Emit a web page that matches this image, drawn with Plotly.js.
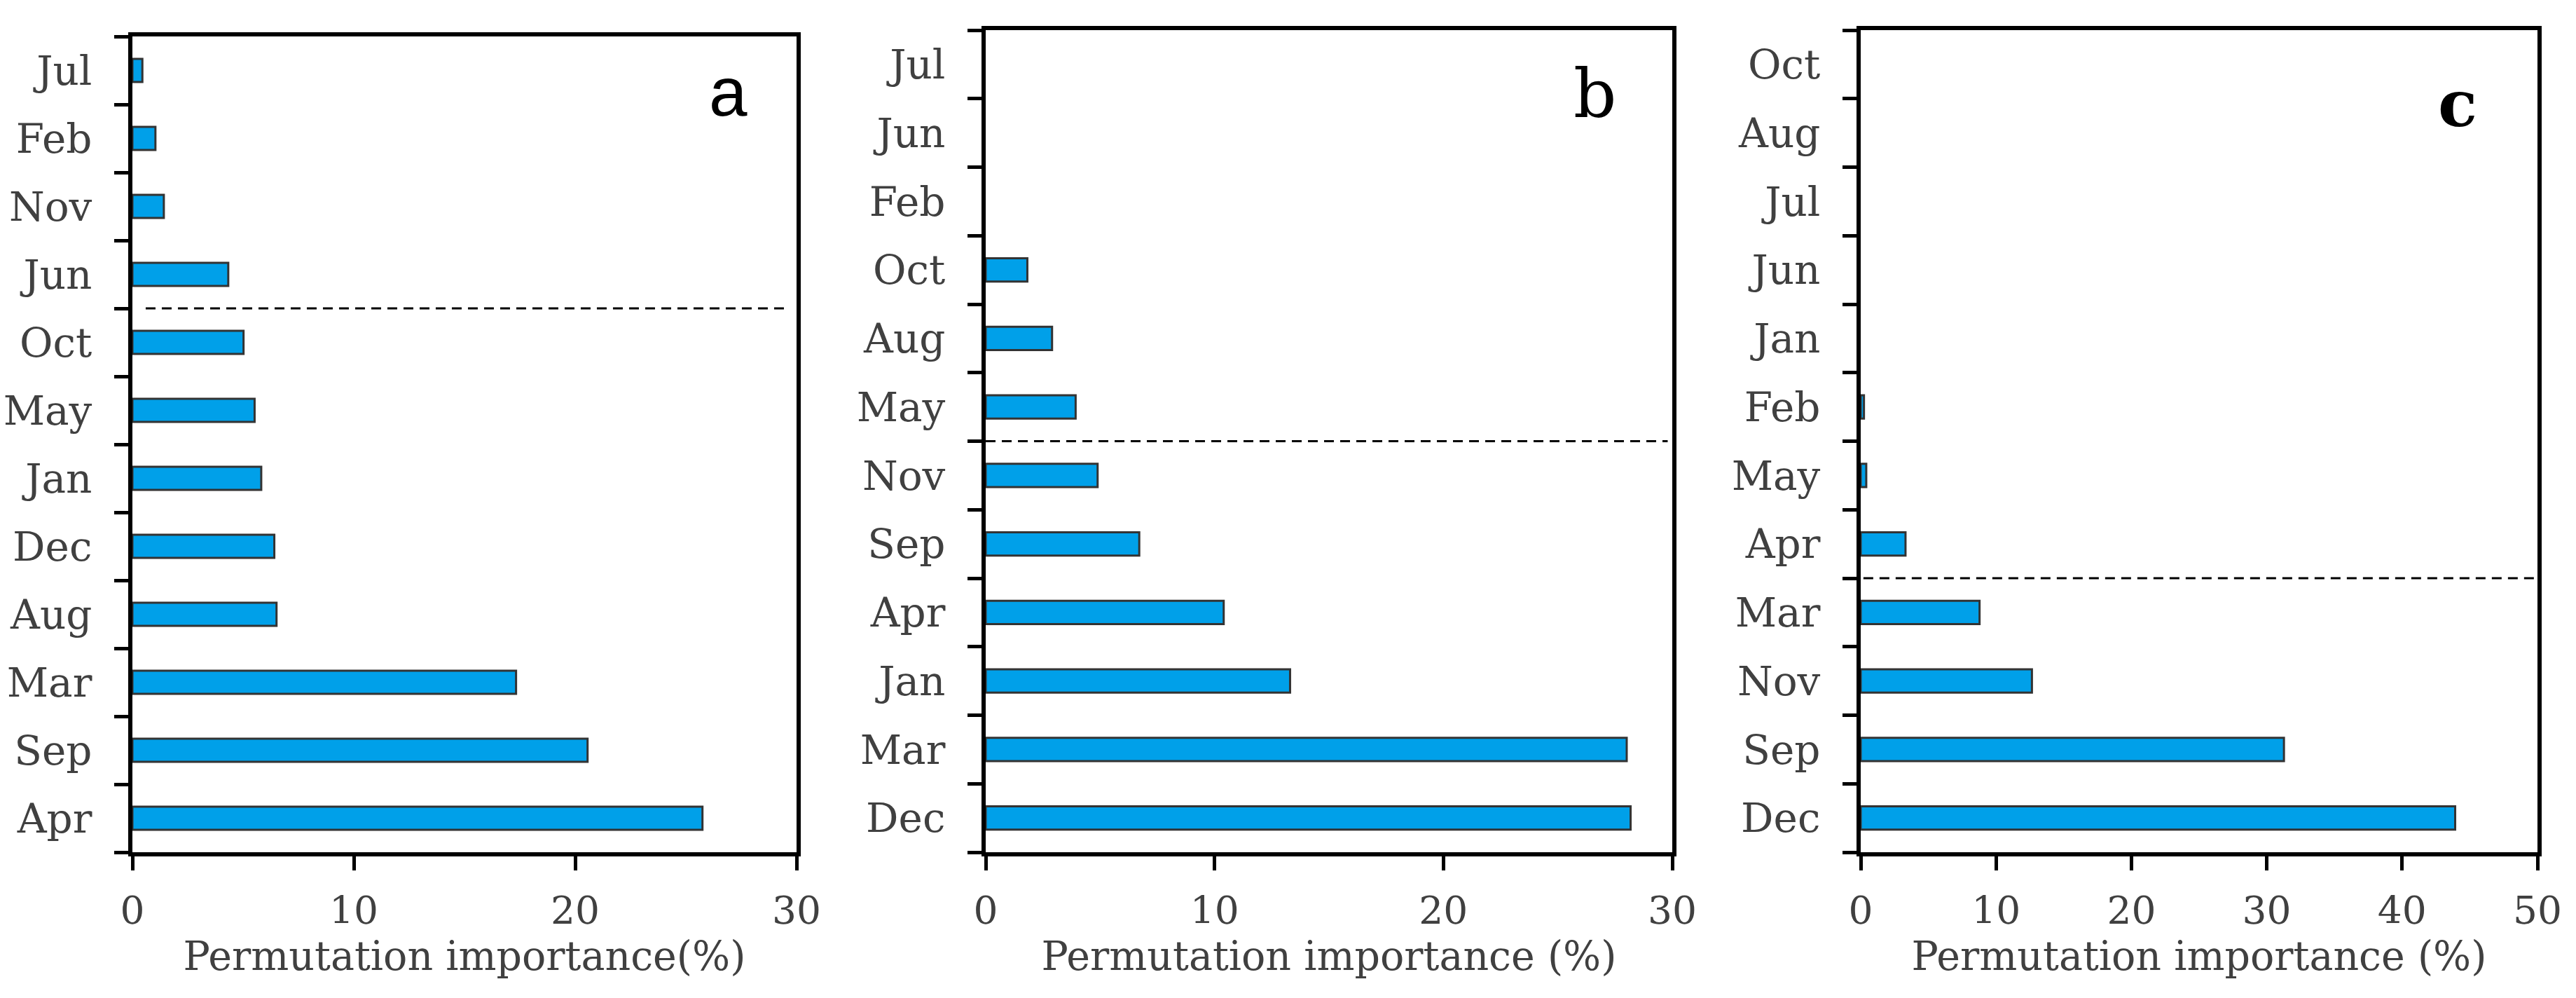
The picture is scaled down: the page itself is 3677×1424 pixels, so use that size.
<!DOCTYPE html>
<html>
<head>
<meta charset="utf-8">
<script src="https://cdn.plot.ly/plotly-3.0.1.min.js"></script>
<style>
  html, body { margin: 0; padding: 0; background: #fff; }
  #chart { width: 3677px; height: 1424px; }
</style>
</head>
<body>
<div id="chart"></div>
<script>
// ---- Data (categories listed bottom to top) ----
const monthsA = ['Apr', 'Sep', 'Mar', 'Aug', 'Dec', 'Jan', 'May', 'Oct', 'Jun', 'Nov', 'Feb', 'Jul'];
const valuesA = [25.75, 20.56, 17.33, 6.51, 6.41, 5.82, 5.52, 5.02, 4.33, 1.42, 1.04, 0.45];

const monthsB = ['Dec', 'Mar', 'Jan', 'Apr', 'Sep', 'Nov', 'May', 'Aug', 'Oct', 'Feb', 'Jun', 'Jul'];
const valuesB = [28.18, 28.01, 13.30, 10.40, 6.71, 4.89, 3.93, 2.90, 1.82, 0, 0, 0];

const monthsC = ['Dec', 'Sep', 'Nov', 'Mar', 'Apr', 'May', 'Feb', 'Jan', 'Jun', 'Jul', 'Aug', 'Oct'];
const valuesC = [43.92, 31.27, 12.65, 8.78, 3.31, 0.41, 0.24, 0, 0, 0, 0, 0];

// last month below each dashed cut-off line, and the dashed line's x extent
const cutBelow = ['Oct', 'Nov', 'Mar'];
const cutXStart = [0.6, 0, 0.2];
const cutXEnd = [29.6, 29.8, 50];

const xMax = [30, 30, 50];
const panelLetters = ['a', 'b', 'c'];
const axisTitles = ['Permutation importance(%)', 'Permutation importance (%)', 'Permutation importance (%)'];

// ---- Styling ----
const FILL = '#00A0E9';
const EDGE = '#333333';
const TEXT = '#404040';
const SERIF = 'DejaVu Serif, Liberation Serif, serif';

const W = 3677, H = 1424;
const px = v => v / W;
const py = v => 1 - v / H;

const panels = [
  { months: monthsA, values: valuesA, x0: 189, x1: 1137, top: 52, bottom: 1216 },
  { months: monthsB, values: valuesB, x0: 1407, x1: 2387, top: 43, bottom: 1216 },
  { months: monthsC, values: valuesC, x0: 2656, x1: 3622, top: 43, bottom: 1216 }
];

const traces = [];
const layout = {
  width: W, height: H,
  margin: { l: 0, r: 0, t: 0, b: 0 },
  paper_bgcolor: '#ffffff',
  plot_bgcolor: '#ffffff',
  showlegend: false,
  shapes: [],
  annotations: []
};

panels.forEach((p, i) => {
  const n = i === 0 ? '' : String(i + 1);
  traces.push({
    type: 'bar',
    orientation: 'h',
    x: p.values,
    y: p.months,
    xaxis: 'x' + n,
    yaxis: 'y' + n,
    width: 0.34,
    marker: { color: FILL, line: { color: EDGE, width: p.values.map(v => v > 0 ? 3 : 0) } },
    hoverinfo: 'x+y'
  });

  layout['xaxis' + n] = {
    domain: [px(p.x0), px(p.x1)],
    anchor: 'y' + n,
    range: [0, xMax[i]],
    tick0: 0, dtick: 10,
    showgrid: false, zeroline: false,
    showline: true, linecolor: '#000', linewidth: 6, mirror: true,
    ticks: 'outside', ticklen: 20, tickwidth: 5, tickcolor: '#000',
    ticklabelstandoff: 10,
    tickfont: { family: SERIF, size: 55, color: TEXT },
    title: { text: axisTitles[i], font: { family: SERIF, size: 57, color: TEXT }, standoff: 0 },
    automargin: false,
    fixedrange: true
  };
  layout['yaxis' + n] = {
    domain: [py(p.bottom), py(p.top)],
    anchor: 'x' + n,
    type: 'category',
    categoryorder: 'array',
    categoryarray: p.months,
    range: [-0.5, p.months.length - 0.5],
    tickson: 'boundaries',
    showgrid: false, zeroline: false,
    showline: true, linecolor: '#000', linewidth: 6, mirror: true,
    ticks: 'outside', ticklen: 20, tickwidth: 5, tickcolor: '#000',
    ticklabelstandoff: 40,
    tickfont: { family: SERIF, size: 58, color: TEXT },
    automargin: false,
    fixedrange: true
  };

  const yCut = p.months.indexOf(cutBelow[i]) + 0.5;
  layout.shapes.push({
    type: 'line', xref: 'x' + n, yref: 'y' + n,
    x0: cutXStart[i], x1: cutXEnd[i], y0: yCut, y1: yCut,
    line: { color: '#000', width: 3, dash: '14px,9px' }
  });
});

layout.annotations.push(
  { text: panelLetters[0], xref: 'paper', yref: 'paper', x: px(1039), y: py(131),
    xanchor: 'center', yanchor: 'middle', showarrow: false,
    font: { family: 'Liberation Sans, Arial, sans-serif', size: 98, color: '#000' } },
  { text: panelLetters[1], xref: 'paper', yref: 'paper', x: px(2276), y: py(134),
    xanchor: 'center', yanchor: 'middle', showarrow: false,
    font: { family: SERIF, size: 96, color: '#000' } },
  { text: '<b>' + panelLetters[2] + '</b>', xref: 'paper', yref: 'paper', x: px(3508), y: py(148),
    xanchor: 'center', yanchor: 'middle', showarrow: false,
    font: { family: SERIF, size: 92, color: '#000' } }
);

Plotly.newPlot('chart', traces, layout, { staticPlot: true, displayModeBar: false });
</script>
</body>
</html>
